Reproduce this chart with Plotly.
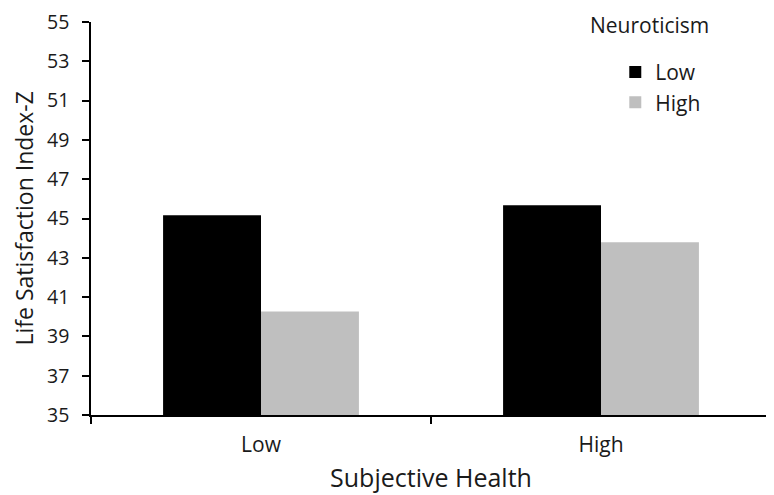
import plotly.graph_objects as go

# Data
health = ["Low", "High"]
neuro_low = [45.16, 45.67]
neuro_high = [40.27, 43.79]
y_ticks = [35, 37, 39, 41, 43, 45, 47, 49, 51, 53, 55]

FONT = "Open Sans, sans-serif"
INK = "#1a1a1a"

fig = go.Figure()
fig.add_trace(go.Bar(x=health, y=neuro_low, name="Low",
                     marker=dict(color="#000000", line=dict(width=0))))
fig.add_trace(go.Bar(x=health, y=neuro_high, name="High",
                     marker=dict(color="#bfbfbf", line=dict(width=0))))

fig.update_layout(
    width=774, height=495,
    margin=dict(l=83, r=11, t=14, b=88),
    paper_bgcolor="white", plot_bgcolor="white",
    barmode="group", bargap=0.424, bargroupgap=0,
    font=dict(family=FONT, size=21, color=INK),
    showlegend=True,
    legend=dict(x=0.771, y=0.924, xanchor="left", yanchor="top",
                bgcolor="rgba(0,0,0,0)", font=dict(size=21),
                tracegroupgap=0, itemwidth=30),
    annotations=[
        # legend heading
        dict(text="Neuroticism", x=0.822, y=1.033, xref="paper", yref="paper",
             showarrow=False, font=dict(size=21), xanchor="center", yanchor="top"),
        # y-axis title
        dict(text="Life Satisfaction Index-Z", x=-0.1, y=0.5, xref="paper", yref="paper",
             showarrow=False, textangle=-90, font=dict(size=23),
             xanchor="center", yanchor="middle"),
    ],
)

fig.update_xaxes(
    showline=True, linecolor="black", linewidth=1.5,
    ticks="outside", tickson="boundaries", ticklen=7, tickcolor="black", tickwidth=1.5,
    tickfont=dict(size=21), ticklabelstandoff=10,
    title=dict(text="Subjective Health", standoff=13, font=dict(size=25)),
    showgrid=False, automargin=False,
)
fig.update_yaxes(
    range=[35, 55], tickvals=y_ticks, ticklabeloverflow="allow",
    showline=True, linecolor="black", linewidth=1.5,
    ticks="outside", ticklen=7, tickcolor="black", tickwidth=1.5,
    tickfont=dict(size=19.5), ticklabelstandoff=9,
    showgrid=False, zeroline=False, automargin=False,
)

fig.write_html("out.html")
